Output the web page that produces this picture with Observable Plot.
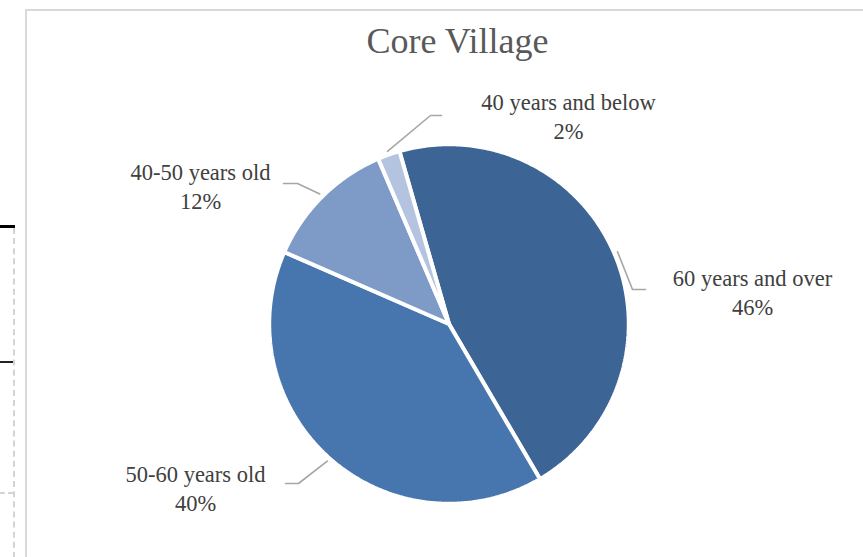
<!DOCTYPE html>
<html><head><meta charset="utf-8">
<script src="https://cdn.jsdelivr.net/npm/d3@7"></script>
<script src="https://cdn.jsdelivr.net/npm/@observablehq/plot@0.6"></script>
<style>
body{margin:0;background:#fff;}
#wrap{position:relative;width:863px;height:557px;overflow:hidden;background:#fff;}
#chart{position:absolute;left:0;top:0;}
.deco{position:absolute;}
</style></head><body>
<div id="wrap">
  <div id="chart"></div>
  <div class="deco" style="left:25px;top:9px;width:900px;height:620px;border-left:2px solid #d9d9d9;border-top:2px solid #d9d9d9;"></div>
  <div class="deco" style="left:0;top:225px;width:15px;height:3px;background:#000;"></div>
  <div class="deco" style="left:0;top:361px;width:14px;height:1.5px;background:#222;"></div>
  <div class="deco" style="left:13px;top:228px;width:0;height:340px;border-left:2px dashed #d4d4d4;"></div>
  <div class="deco" style="left:0;top:492px;width:13px;height:0;border-top:2px dashed #d4d4d4;"></div>
</div>
<script>
// ---- data ----
const title = "Core Village";
const categories = ["60 years and over", "50-60 years old", "40-50 years old", "40 years and below"];
const shares = [46, 40, 12, 2];
const colors = ["#3C6596", "#4776AE", "#7E9BC8", "#B4C3DF"];

// ---- layout ----
const W = 863, H = 557, cx = 448.5, cy = 323.5, R = 178;
const startAngle = -16; // degrees clockwise from 12 o'clock
const labelLayout = [
  {tx: 752, ty: 290.5, ex: 632, ey: 289, hx: 645},
  {tx: 195, ty: 486.5, ex: 298, ey: 483, hx: 285},
  {tx: 200, ty: 184.5, ex: 297, ey: 183, hx: 283},
  {tx: 568, ty: 114.5, ex: 430, ey: 115, hx: 441}
];
const px = (v) => (v - cx) / R;
const py = (v) => (v - cy) / R;

const total = d3.sum(shares);
let acc = startAngle;
const slices = categories.map((c, i) => {
  const a0 = acc, a1 = acc + shares[i] / total * 360;
  acc = a1;
  return {category: c, value: shares[i], a0, a1, mid: (a0 + a1) / 2, i};
});
const rad = (d) => d * Math.PI / 180;

// polygon points for each slice
const polyPts = [];
for (const s of slices) {
  polyPts.push({category: s.category, x: 0, y: 0});
  const n = Math.max(2, Math.ceil((s.a1 - s.a0) / 0.5));
  for (let k = 0; k <= n; k++) {
    const a = rad(s.a0 + (s.a1 - s.a0) * k / n);
    polyPts.push({category: s.category, x: 1.01 * Math.sin(a), y: -1.01 * Math.cos(a)});
  }
}

// leader lines
const leaderPts = [];
slices.forEach((s, i) => {
  const L = labelLayout[i];
  const a = rad(s.mid);
  leaderPts.push({category: s.category, x: 1.03 * Math.sin(a), y: -1.03 * Math.cos(a)});
  leaderPts.push({category: s.category, x: px(L.ex), y: py(L.ey)});
  leaderPts.push({category: s.category, x: px(L.hx), y: py(L.ey)});
});

const labels = slices.map((s, i) => ({
  text: `${s.category}\n${s.value}%`,
  x: px(labelLayout[i].tx), y: py(labelLayout[i].ty)
}));

const chart = Plot.plot({
  width: W, height: H, margin: 0,
  style: {background: "transparent"},
  x: {domain: [px(0), px(W)], range: [0, W], axis: null},
  y: {domain: [py(0), py(H)], range: [0, H], axis: null},
  color: {domain: categories, range: colors},
  marks: [
    Plot.line(polyPts, {x: "x", y: "y", z: "category", fill: "category", stroke: "white", strokeWidth: 4, curve: "linear-closed", strokeLinejoin: "miter"}),
    Plot.line(leaderPts, {x: "x", y: "y", z: "category", stroke: "#A6A6A6", strokeWidth: 1.6}),
    Plot.text(labels, {x: "x", y: "y", text: "text", fontFamily: "Liberation Serif", fontSize: 22.5, fill: "#404040", lineHeight: 1.29, textAnchor: "middle", lineAnchor: "middle"}),
    Plot.text([title], {x: px(457), y: py(41), text: d => d, fontFamily: "Liberation Serif", fontSize: 36, fill: "#595959", textAnchor: "middle", lineAnchor: "middle"})
  ]
});
document.getElementById("chart").appendChild(chart);
</script>
</body></html>
